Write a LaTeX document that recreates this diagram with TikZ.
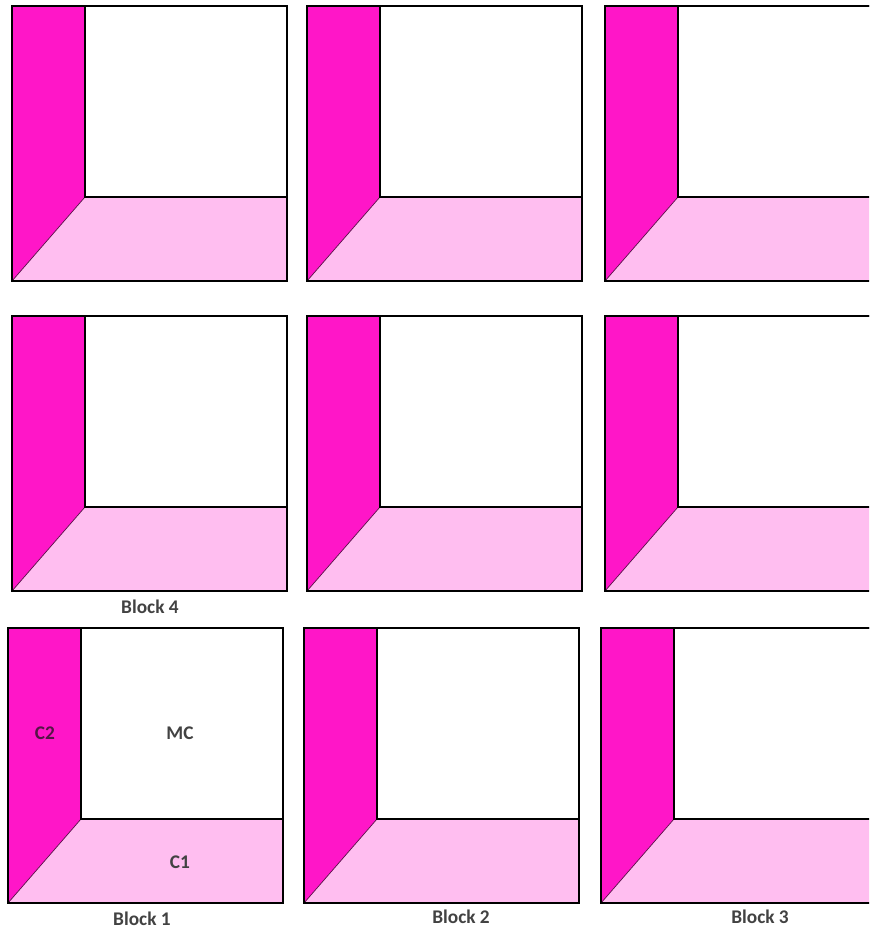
\documentclass[tikz,border=0pt]{standalone}
\usepackage{fontspec}
\setmainfont{Carlito}
\definecolor{wallC}{RGB}{255,22,200}
\definecolor{floorC}{RGB}{255,190,240}
\definecolor{seamC}{RGB}{90,10,70}
\definecolor{labelC}{RGB}{66,66,66}

\begin{document}
\begin{tikzpicture}[x=0.03cm, y=-0.03cm, font=\bfseries\fontsize{16.5}{19}\selectfont,
  edge/.style={draw=black, line width=1pt},
  seam/.style={draw=seamC, line width=0.6pt},
  blocklabel/.style={text=labelC, inner sep=0pt}]
  \useasboundingbox (0,0) rectangle (869,929);
  \clip (0,0) rectangle (869,929);

  % Nine blocks (left edge / top edge)
  \foreach \L/\T in {12/6, 307/6, 605/6, 12/316, 307/316, 605/316, 8/628, 304/628, 601/628}{
    \coordinate (nw) at (\L,\T);
    \coordinate (ne) at (\L+275,\T);
    \coordinate (se) at (\L+275,\T+275);
    \coordinate (sw) at (\L,\T+275);
    \coordinate (in) at (\L+73,\T+191);
    \coordinate (it) at (\L+73,\T);
    \coordinate (ir) at (\L+275,\T+191);
    % wall and floor
    \fill[wallC] (nw) -- (it) -- (in) -- (sw) -- cycle;
    \fill[floorC] (in) -- (ir) -- (se) -- (sw) -- cycle;
    % outlines
    \draw[seam] (in) -- (sw);
    \draw[edge] (it) -- (in) -- (ir);
    \draw[edge] (nw) rectangle (se);
    \draw[edge, line width=1.6pt] (sw) -- (nw) -- (ne);
  }

  % Labels
  \node[blocklabel] (lab4) at (150,607) {Block 4};
  \node[blocklabel] (lab1) at (142,919) {Block 1};
  \node[blocklabel] (lab2) at (461,917) {Block 2};
  \node[blocklabel] (lab3) at (760,917) {Block 3};
  \node[blocklabel, text=seamC!80!labelC] (c2) at (45,733) {C2};
  \node[blocklabel] (mc) at (180,733) {MC};
  \node[blocklabel] (c1) at (180,862) {C1};
\end{tikzpicture}
\end{document}
